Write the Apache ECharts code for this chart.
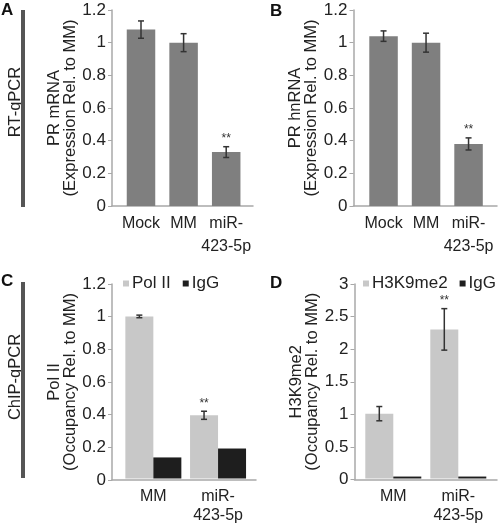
<!DOCTYPE html>
<html><head><meta charset="utf-8">
<script src="https://cdn.jsdelivr.net/npm/echarts@6/dist/echarts.min.js"></script>
<style>html,body{margin:0;padding:0;background:#fff}#c{width:498px;height:525px}</style>
</head><body><div id="c"></div>
<script>
// ---- data ----
const catsAB = ['Mock', 'MM', 'miR-\n423-5p'];
const prMrna = [1.08, 1.00, 0.33];
const prMrnaErr = [0.053, 0.055, 0.033];
const prMrnaSig = ['', '', '**'];
const prHnrna = [1.04, 1.00, 0.38];
const prHnrnaErr = [0.032, 0.058, 0.037];
const prHnrnaSig = ['', '', '**'];
const catsCD = ['MM', 'miR-\n423-5p'];
const polII = [1.00, 0.39];
const polIIErr = [0.008, 0.025];
const polIISig = ['', '**'];
const iggC = [0.13, 0.185];
const h3k9 = [1.00, 2.30];
const h3k9Err = [0.11, 0.32];
const h3k9Sig = ['', '**'];
const iggD = [0.03, 0.03];
const axisAB = { min: 0, max: 1.2, interval: 0.2 };
const axisC = { min: 0, max: 1.2, interval: 0.2 };
const axisD = { min: 0, max: 3, interval: 0.5 };

// ---- styles ----
const FONT = "'Liberation Sans', Arial, Helvetica, sans-serif";
const AX = '#a8a8a8';
const TXT = '#222';
const DARK = '#7f7f7f', LIGHT = '#c8c8c8', BLACK = '#1e1e1e';

const chart = echarts.init(document.getElementById('c'), null, { renderer: 'canvas' });

const grids = [], xAxes = [], yAxes = [], series = [];

function panel(frame, dataBox, range, cats, yName, labelLH, labelMargin, nameGap) {
  const gi = grids.length;
  grids.push({ left: frame.left, top: frame.top, width: frame.width, height: frame.height });
  grids.push({ left: dataBox.left, top: frame.top, width: dataBox.width, height: frame.height });
  xAxes.push({ type: 'category', gridIndex: gi, data: [''], axisLine: { show: true, lineStyle: { color: AX, width: 1.5 } },
    axisTick: { show: false }, axisLabel: { show: false } });
  yAxes.push({ type: 'value', gridIndex: gi, min: range.min, max: range.max, interval: range.interval,
    axisLine: { show: true, lineStyle: { color: AX, width: 1.5 } },
    axisTick: { show: true, length: 4, lineStyle: { color: AX } },
    splitLine: { show: false },
    axisLabel: { fontSize: 17, color: TXT, fontFamily: FONT, margin: 6 },
    name: yName, nameLocation: 'middle', nameRotate: 90, nameGap: nameGap,
    nameTextStyle: { fontSize: 16.5, color: TXT, fontFamily: FONT, lineHeight: 16 } });
  const dx = xAxes.length;
  xAxes.push({ type: 'category', gridIndex: gi + 1, data: cats, axisLine: { show: false }, axisTick: { show: false },
    axisLabel: { interval: 0, fontSize: 16, color: TXT, fontFamily: FONT, lineHeight: labelLH, margin: labelMargin } });
  const dy = yAxes.length;
  yAxes.push({ type: 'value', gridIndex: gi + 1, min: range.min, max: range.max, interval: range.interval, show: false });
  return { dx, dy };
}

function errSeries(ax, vals, errs, sigs, offset) {
  return {
    type: 'custom', xAxisIndex: ax.dx, yAxisIndex: ax.dy, z: 10, silent: true,
    data: vals.map((v, i) => [i, v, errs[i]]),
    encode: { x: 0, y: 1 },
    renderItem: function (params, api) {
      const i = api.value(0), v = api.value(1), e = api.value(2);
      const x = api.coord([i, v])[0] + offset;
      const hi = api.coord([i, v + e])[1], lo = api.coord([i, v - e])[1];
      const hw = 3, st = { stroke: '#333', lineWidth: 1.5 };
      const ch = [
        { type: 'line', shape: { x1: x, y1: hi, x2: x, y2: lo }, style: st },
        { type: 'line', shape: { x1: x - hw, y1: hi, x2: x + hw, y2: hi }, style: st },
        { type: 'line', shape: { x1: x - hw, y1: lo, x2: x + hw, y2: lo }, style: st }
      ];
      const s = sigs[params.dataIndex];
      if (s) ch.push({ type: 'text', style: { text: s, x: x, y: hi - 2, align: 'center', verticalAlign: 'bottom',
        fontSize: 12, fontFamily: FONT, fill: '#333' } });
      return { type: 'group', children: ch };
    }
  };
}

// Panel A
const pA = panel({ left: 112, top: 10, width: 141, height: 196 }, { left: 119.7, width: 127.8 }, axisAB, catsAB,
  'PR mRNA\n(Expression Rel. to MM)', 23, 6, 34);
series.push({ type: 'bar', name: 'PR mRNA', xAxisIndex: pA.dx, yAxisIndex: pA.dy, data: prMrna, barWidth: 28.5,
  itemStyle: { color: DARK }, silent: true });
series.push(errSeries(pA, prMrna, prMrnaErr, prMrnaSig, 0));

// Panel B
const pB = panel({ left: 353.5, top: 10, width: 143.5, height: 196 }, { left: 362.3, width: 127.5 }, axisAB, catsAB,
  'PR hnRNA\n(Expression Rel. to MM)', 23, 6, 34);
series.push({ type: 'bar', name: 'PR hnRNA', xAxisIndex: pB.dx, yAxisIndex: pB.dy, data: prHnrna, barWidth: 28.5,
  itemStyle: { color: DARK }, silent: true });
series.push(errSeries(pB, prHnrna, prHnrnaErr, prHnrnaSig, 0));

// Panel C
const pC = panel({ left: 112, top: 284, width: 144, height: 196 }, { left: 121, width: 129.4 }, axisC, catsCD,
  'Pol II\n(Occupancy Rel. to MM)', 19, 8.5, 34);
series.push({ type: 'bar', name: 'Pol II', xAxisIndex: pC.dx, yAxisIndex: pC.dy, data: polII, barWidth: 28,
  barGap: '0%', itemStyle: { color: LIGHT }, silent: true });
series.push({ type: 'bar', name: 'IgG', xAxisIndex: pC.dx, yAxisIndex: pC.dy, data: iggC, barWidth: 28,
  barGap: '0%', itemStyle: { color: BLACK }, silent: true });
series.push(errSeries(pC, polII, polIIErr, polIISig, -14));

// Panel D
const pD = panel({ left: 354.5, top: 284, width: 142.5, height: 195.5 }, { left: 360.8, width: 130 }, axisD, catsCD,
  'H3K9me2\n(Occupancy Rel. to MM)', 19, 8.5, 34);
series.push({ type: 'bar', name: 'H3K9me2', xAxisIndex: pD.dx, yAxisIndex: pD.dy, data: h3k9, barWidth: 28,
  barGap: '0%', itemStyle: { color: LIGHT }, silent: true });
series.push({ type: 'bar', name: 'IgG', xAxisIndex: pD.dx, yAxisIndex: pD.dy, data: iggD, barWidth: 28,
  barGap: '0%', itemStyle: { color: BLACK }, silent: true });
series.push(errSeries(pD, h3k9, h3k9Err, h3k9Sig, -14));

const legendCommon = { orient: 'horizontal', padding: 0, itemWidth: 6, itemHeight: 6, itemGap: 12, icon: 'rect',
  selectedMode: false, textStyle: { fontSize: 17, color: TXT, fontFamily: FONT, padding: [0, 0, 0, -2] } };

const letter = (t, x, y) => ({ type: 'text', left: x, top: y, style: { text: t, fontSize: 17, fontWeight: 'bold', fontFamily: FONT, fill: '#111' } });
const sideLabel = (t, cx, cy) => ({ type: 'text', x: cx, y: cy, rotation: Math.PI / 2,
  style: { text: t, fontSize: 16.5, fontFamily: FONT, fill: TXT, align: 'center', verticalAlign: 'middle' } });

chart.setOption({
  animation: false,
  backgroundColor: '#fff',
  grid: grids,
  xAxis: xAxes,
  yAxis: yAxes,
  legend: [
    Object.assign({ data: ['Pol II', 'IgG'], left: 123, top: 275 }, legendCommon),
    Object.assign({ data: ['H3K9me2', 'IgG'], left: 363, top: 275 }, legendCommon)
  ],
  series: series,
  graphic: [
    letter('A', 1, 2), letter('B', 270, 3), letter('C', 1, 273), letter('D', 270, 275),
    sideLabel('RT-qPCR', 15, 102),
    sideLabel('ChIP-qPCR', 15, 377),
    { type: 'rect', shape: { x: 21, y: 10, width: 4, height: 197 }, style: { fill: '#555' } },
    { type: 'rect', shape: { x: 21, y: 282, width: 4, height: 196 }, style: { fill: '#555' } }
  ]
});
</script>
</body></html>
